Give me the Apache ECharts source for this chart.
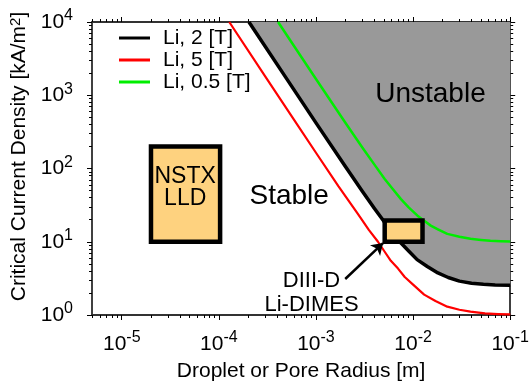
<!DOCTYPE html>
<html>
<head>
<meta charset="utf-8">
<script src="https://cdn.jsdelivr.net/npm/echarts@6/dist/echarts.min.js"></script>
<style>
html, body { margin: 0; padding: 0; background: #fff; }
#chart { width: 532px; height: 387px; }
</style>
</head>
<body>
<div id="chart"></div>
<script>
// droplet/pore radius [m] and critical current density [kA/m^2]
const r2T = [2.04e-4, 5e-4, 1e-3, 2e-3, 3e-3, 4e-3, 5e-3, 6e-3, 7.5e-3, 9e-3, 1.1e-2, 1.4e-2, 1.8e-2, 2.3e-2, 3e-2, 4e-2, 5.3e-2, 7e-2, 1e-1];
const j2T = [1e4, 1674, 420, 107, 49, 28.5, 19, 14, 9.6, 7.5, 5.7, 4.6, 3.75, 3.25, 2.9, 2.72, 2.62, 2.57, 2.55];
const r5T = [1.28e-4, 3e-4, 6e-4, 1e-3, 1.7e-3, 2.7e-3, 3.5e-3, 4.35e-3, 5.1e-3, 5.9e-3, 7e-3, 8.2e-3, 1e-2, 1.3e-2, 1.7e-2, 2.25e-2, 3e-2, 3.9e-2, 5.5e-2, 7.5e-2, 1e-1];
const j5T = [1e4, 1812, 454, 164, 57.4, 24, 14.5, 10, 7.3, 5.5, 4.3, 3.3, 2.6, 1.9, 1.55, 1.3, 1.18, 1.11, 1.05, 1.03, 1.02];
const r05T = [4.07e-4, 1e-3, 2e-3, 3e-3, 4e-3, 5.1e-3, 6.2e-3, 7.5e-3, 9e-3, 1.11e-2, 1.3e-2, 1.52e-2, 1.8e-2, 2.25e-2, 3e-2, 3.9e-2, 5e-2, 6.25e-2, 8e-2, 1e-1];
const j05T = [1e4, 1667, 424, 194, 113, 72, 52, 38.2, 29.5, 22.7, 19.3, 16.6, 14.8, 12.8, 11.7, 10.96, 10.6, 10.3, 10.15, 10.07];
const seriesNames = ['Li, 2 [T]', 'Li, 5 [T]', 'Li, 0.5 [T]'];

// experiment boxes: [r low, J low, r high, J high]
const boxNSTX = [2.0e-5, 10, 1.03e-4, 200];
const boxDIIID = [5.1e-3, 10, 1.25e-2, 19.5];
// arrow and text notes
const arrowR = [2.0e-3, 4.9e-3];
const arrowJ = [3.1, 9.6];
const noteText = ['Stable', 'Unstable', 'DIII-D\nLi-DIMES', 'NSTX\nLLD'];
const noteR = [5.3e-4, 1.51e-2, 9.0e-4, 4.5e-5];
const noteJ = [42, 1040, 2.0, 54];

// axes
const xRange = [4.94e-6, 1e-1];
const yRange = [1, 1e4];
const xTicks = [1e-5, 1e-4, 1e-3, 1e-2, 1e-1];
const yTicks = [1, 10, 100, 1000, 10000];

const L = Math.log10;
const FONT = 'Liberation Sans';
const pts = (r, j) => r.map((v, i) => [L(v), L(j[i])]);
const xMin = L(xRange[0]), xMax = L(xRange[1]);
const yMin = L(yRange[0]), yMax = L(yRange[1]);
const xMajor = xTicks.map(L), yMajor = yTicks.map(L);
function minors(lo, hi) {
    let out = [];
    for (let e = Math.floor(lo); e < hi; e++) {
        for (let k = 2; k <= 9; k++) {
            let v = e + L(k);
            if (v >= lo && v <= hi) out.push(v);
        }
    }
    return out;
}
const xMinor = minors(xMin, xMax), yMinor = minors(yMin, yMax);

const pow10 = v => '{b|10}{e|' + Math.round(v) + '}';
const tickRich = {
    b: { fontSize: 21, lineHeight: 28, fontFamily: FONT, color: '#000' },
    e: { fontSize: 16, lineHeight: 16, verticalAlign: 'top', fontFamily: FONT, color: '#000' }
};

function xAxisOf(pos, major, withLabel) {
    return {
        type: 'value', position: pos, min: xMin, max: xMax,
        splitLine: { show: false },
        axisLine: { show: major, onZero: false, lineStyle: { color: '#333', width: 2 } },
        axisTick: { show: true, customValues: major ? xMajor : xMinor, length: major ? 5 : 3, lineStyle: { color: '#000', width: 1 } },
        axisLabel: { show: withLabel, customValues: xMajor, formatter: pow10, rich: tickRich, margin: 15 },
        name: withLabel ? 'Droplet or Pore Radius [m]' : '',
        nameLocation: 'middle', nameGap: 46,
        nameTextStyle: { fontSize: 21, fontFamily: FONT, color: '#000' }
    };
}
function yAxisOf(pos, major, withLabel) {
    return {
        type: 'value', position: pos, min: yMin, max: yMax,
        splitLine: { show: false },
        axisLine: { show: major, onZero: false, lineStyle: { color: '#000', width: 1.5 } },
        axisTick: { show: true, customValues: major ? yMajor : yMinor, length: major ? 5 : 3, lineStyle: { color: '#000', width: 1 } },
        axisLabel: { show: withLabel, customValues: yMajor, formatter: pow10, rich: tickRich, margin: 19 },
        name: withLabel ? 'Critical Current Density [kA/m{s|2}]' : '',
        nameLocation: 'middle', nameGap: 54,
        nameTextStyle: {
            fontSize: 21, fontFamily: FONT, color: '#000', padding: [0, 0, 0, 24],
            rich: { s: { fontSize: 15, lineHeight: 15, verticalAlign: 'top', fontFamily: FONT, color: '#000' } }
        }
    };
}

const curve = (name, r, j, color, width) => ({
    name: name, type: 'line', data: pts(r, j), symbol: 'none', smooth: false,
    lineStyle: { color: color, width: width, join: 'round' }, itemStyle: { color: color }, z: 3
});

var myChart = echarts.init(document.getElementById('chart'), null, { renderer: 'canvas' });
var option = {
    animation: false,
    backgroundColor: '#fff',
    grid: { left: 92, right: 19, top: 22, bottom: 70 },
    legend: {
        data: seriesNames, orient: 'vertical', left: 119, top: 27, padding: 0,
        icon: 'rect', itemWidth: 31, itemHeight: 3, itemGap: 0,
        textStyle: { fontSize: 21, lineHeight: 22, fontFamily: FONT, color: '#000', padding: [0, 0, 0, 8] }
    },
    xAxis: [xAxisOf('bottom', true, true), xAxisOf('bottom', false, false), xAxisOf('top', true, false), xAxisOf('top', false, false)],
    yAxis: [yAxisOf('left', true, true), yAxisOf('left', false, false), yAxisOf('right', true, false), yAxisOf('right', false, false)],
    series: [
        {
            name: 'unstable', type: 'line', data: pts(r2T, j2T), symbol: 'none', smooth: false,
            lineStyle: { width: 0 }, areaStyle: { color: '#999999', opacity: 1, origin: 'end' }, z: 1, silent: true
        },
        curve(seriesNames[0], r2T, j2T, '#000000', 3.5),
        curve(seriesNames[1], r5T, j5T, '#ff0000', 2.2),
        curve(seriesNames[2], r05T, j05T, '#00ee00', 2.5),
        {
            name: 'boxes', type: 'custom', z: 5, silent: true,
            data: [boxNSTX, boxDIIID].map(b => [L(b[0]), L(b[1]), L(b[2]), L(b[3])]),
            encode: { x: [0, 2], y: [1, 3] },
            renderItem: function (params, api) {
                var p1 = api.coord([api.value(0), api.value(3)]);
                var p2 = api.coord([api.value(2), api.value(1)]);
                return {
                    type: 'rect',
                    shape: { x: p1[0], y: p1[1], width: p2[0] - p1[0], height: p2[1] - p1[1] },
                    style: { fill: '#fed27f', stroke: '#000', lineWidth: 4.5 }
                };
            }
        },
        {
            name: 'notes', type: 'scatter', symbolSize: 0, z: 6, silent: true,
            itemStyle: { opacity: 1 },
            data: noteText.map((t, i) => ({
                value: [L(noteR[i]), L(noteJ[i])],
                label: {
                    show: true, position: 'inside', formatter: t, color: '#000', fontFamily: FONT,
                    fontSize: i < 2 ? 28 : (i == 2 ? 22 : 23), lineHeight: i < 2 ? 30 : (i == 2 ? 24 : 22),
                    align: 'center', verticalAlign: 'middle'
                }
            })),
            markLine: {
                silent: true, symbol: ['none', 'arrow'], symbolSize: 11,
                lineStyle: { color: '#000', width: 2.5, type: 'solid' }, label: { show: false },
                data: [[{ coord: [L(arrowR[0]), L(arrowJ[0])] }, { coord: [L(arrowR[1]), L(arrowJ[1])] }]]
            }
        }
    ]
};
myChart.setOption(option);
window.addEventListener('resize', () => {
    myChart.resize()
})
</script>
</body>
</html>
